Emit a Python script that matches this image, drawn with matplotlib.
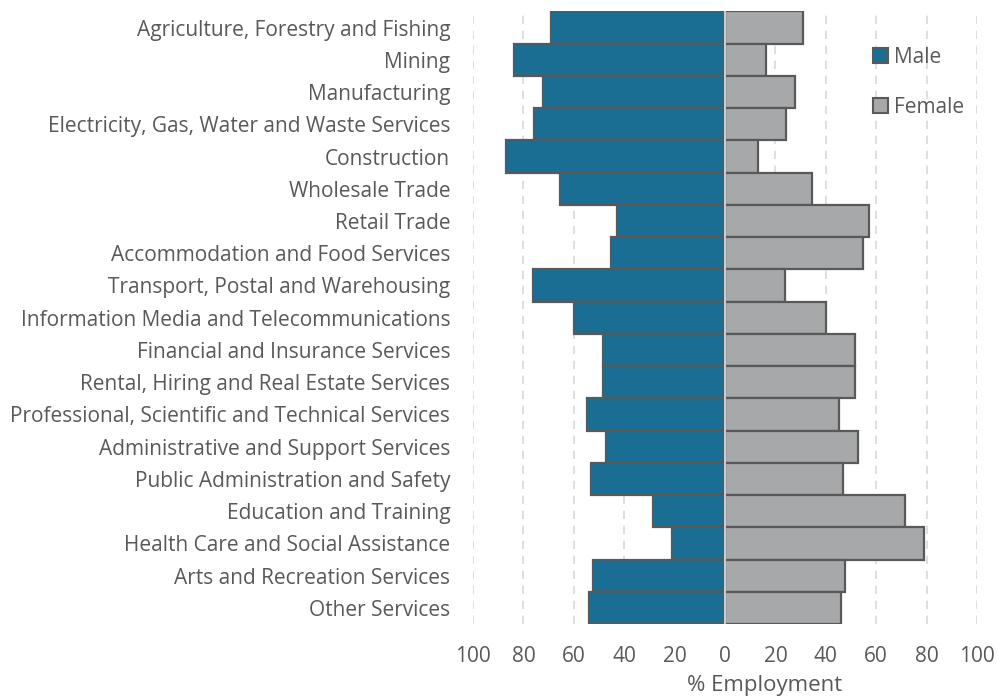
import numpy as np
import matplotlib
matplotlib.use("Agg")
import matplotlib.pyplot as plt
from matplotlib.patches import Patch

industries = [
    "Agriculture, Forestry and Fishing",
    "Mining",
    "Manufacturing",
    "Electricity, Gas, Water and Waste Services",
    "Construction",
    "Wholesale Trade",
    "Retail Trade",
    "Accommodation and Food Services",
    "Transport, Postal and Warehousing",
    "Information Media and Telecommunications",
    "Financial and Insurance Services",
    "Rental, Hiring and Real Estate Services",
    "Professional, Scientific and Technical Services",
    "Administrative and Support Services",
    "Public Administration and Safety",
    "Education and Training",
    "Health Care and Social Assistance",
    "Arts and Recreation Services",
    "Other Services",
]
male = [69.2, 83.7, 72.1, 76.0, 86.9, 65.5, 42.7, 45.2, 76.3, 60.1,
        48.3, 48.6, 54.6, 47.2, 53.2, 28.4, 21.2, 52.3, 53.8]
female = [30.8, 16.3, 27.9, 24.0, 13.1, 34.5, 57.3, 54.8, 23.7, 39.9,
          51.7, 51.4, 45.4, 52.8, 46.8, 71.6, 78.8, 47.7, 46.2]
ticks = [-100, -80, -60, -40, -20, 0, 20, 40, 60, 80, 100]

male_col = "#1a6e93"
female_col = "#a7a8aa"
edge = "#595959"
txt = "#595959"

plt.rcParams["font.family"] = ["Open Sans", "DejaVu Sans"]

fig = plt.figure(figsize=(9.98, 7.0), dpi=100)
ax = fig.add_axes([0.474, 0.1086, 0.505, 0.875])

y = np.arange(len(industries))
ax.barh(y, -np.array(male), height=1.0, color=male_col, edgecolor=edge,
        linewidth=1.6, zorder=3)
ax.barh(y, female, height=1.0, color=female_col, edgecolor=edge,
        linewidth=1.6, zorder=3)
# light divider down the middle
ax.axvline(0, color="#d0d0d0", linewidth=1.4, zorder=4)

ax.set_xlim(-100, 100)
ax.set_ylim(len(industries) - 0.5, -0.5)
ax.set_xticks(ticks)
ax.set_xticklabels([str(abs(t)) for t in ticks])
ax.set_yticks(y)
ax.set_yticklabels(industries)
ax.tick_params(axis="both", length=0, colors=txt, labelsize=15)
ax.tick_params(axis="y", pad=16.5)
ax.tick_params(axis="x", pad=16)

ax.xaxis.grid(True, color="#d9d9d9", linestyle=(0, (5, 4)), linewidth=1.2, zorder=0)
for s in ax.spines.values():
    s.set_visible(False)

ax.set_xlabel("% Employment", color=txt, fontsize=16, va="center")
ax.xaxis.set_label_coords(0.579, -0.101)

handles = [Patch(facecolor=male_col, edgecolor=edge, linewidth=1.5, label="Male"),
           Patch(facecolor=female_col, edgecolor=edge, linewidth=1.5, label="Female")]
fig.legend(handles=handles, loc="upper left", bbox_to_anchor=(0.875, 0.933),
           frameon=False, fontsize=15, handlelength=0.72, handleheight=0.72,
           handletextpad=0.3, labelspacing=1.4, labelcolor=txt, borderpad=0,
           borderaxespad=0)

fig.savefig("out.png", dpi=100, facecolor="white")
